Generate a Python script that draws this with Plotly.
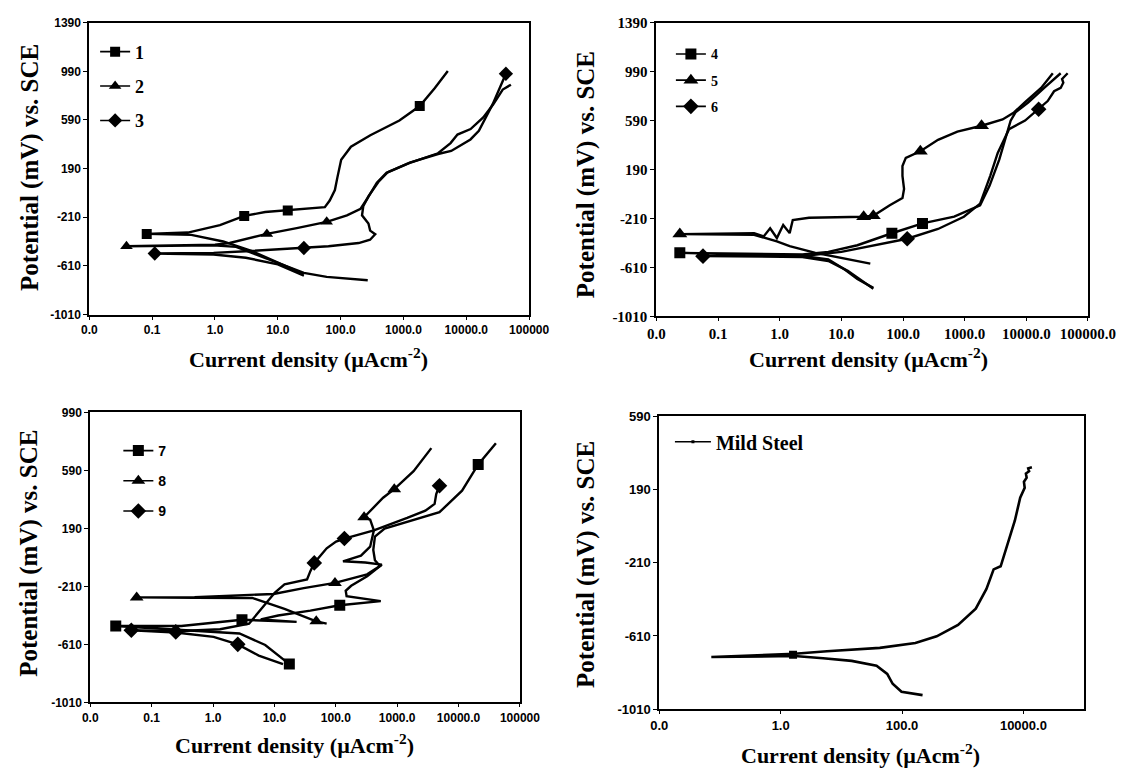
import plotly.graph_objects as go

W, H = 1145, 774

# ---------------- tick values / labels ----------------
x_tickvals = [0.01, 0.1, 1, 10, 100, 1000, 10000, 100000]
x_ticktext_a = ["0.0", "0.1", "1.0", "10.0", "100.0", "1000.0", "10000.0", "100000"]
x_ticktext_b = ["0.0", "0.1", "1.0", "10.0", "100.0", "1000.0", "10000.0", "100000.0"]
x_tickvals_ms = [0.01, 1, 100, 10000]
x_ticktext_ms = ["0.0", "1.0", "100.0", "10000.0"]
y_ticks_ab = [-1010, -610, -210, 190, 590, 990, 1390]
y_ticks_c = [-1010, -610, -210, 190, 590, 990]
y_ticks_d = [-1010, -610, -210, 190, 590]

# ---------------- Panel A : samples 1-3 ----------------
s1_i = [26, 10, 3.9, 1.35, 0.42, 0.082, 0.37, 1.2, 2.92, 6.3, 14.4, 56, 67, 81, 89, 95,
        102, 146, 297, 861, 1816, 3160, 5080]
s1_e = [-677, -583, -489, -409, -355, -347, -336, -275, -199, -167, -154, -127, -73, 14,
        120, 200, 262, 370, 464, 585, 705, 853, 993]
s1_mi = [0.082, 2.92, 14.4, 1816]
s1_me = [-347, -199, -154, 705]

s2_i = [270, 60, 26, 6.3, 2.17, 0.95, 0.039, 0.5, 1.0, 1.71, 3.5, 6.7, 20, 60, 126, 208,
        263, 377, 537, 1230, 3550, 5620, 7240, 11700, 18600, 26900, 38000, 51300]
s2_e = [-728, -700, -668, -543, -454, -440, -449, -440, -436, -422, -380, -347, -300, -248,
        -195, -140, -60, 74, 155, 235, 316, 400, 470, 515, 611, 719, 840, 880]
s2_mi = [0.039, 6.7, 60]
s2_me = [-449, -347, -248]

s3_i = [26, 10, 3.1, 0.95, 0.11, 0.95, 3.1, 26, 64, 194, 294, 355, 295, 277, 219, 229, 275,
        398, 562, 1260, 3550, 5750, 8900, 11650, 15850, 19950, 26300, 33900, 42700]
s3_e = [-691, -597, -543, -516, -508, -503, -489, -463, -449, -422, -395, -350, -320, -261,
        -194, -120, -40, 80, 160, 240, 310, 335, 390, 430, 500, 600, 720, 850, 970]
s3_mi = [0.11, 26, 42700]
s3_me = [-508, -463, 970]

# ---------------- Panel B : samples 4-6 ----------------
s4_i = [33, 18.2, 11.2, 6.15, 2.34, 0.024, 0.27, 2.34, 6.15, 18.2, 66, 207, 676, 1780, 2540,
        3650, 4650, 5570, 6680, 10700, 19500, 36100]
s4_e = [-776, -704, -624, -543, -516, -490, -498, -503, -482, -428, -330, -250, -195, -102,
        59, 273, 457, 590, 657, 737, 857, 977]
s4_mi = [0.024, 66, 207]
s4_me = [-490, -330, -250]

s5_i = [29.5, 10, 3.8, 1.45, 0.9, 0.385, 0.024, 0.385, 0.55, 0.70, 0.9, 1.14, 1.45, 1.63,
        2.99, 23, 33, 61, 98, 104, 98, 98, 111, 191, 370, 762, 1880, 4120, 6310, 9550,
        17400, 26900]
s5_e = [-578, -530, -490, -436, -396, -343, -337, -329, -356, -289, -369, -262, -329, -222,
        -204, -195, -187, -102, -43, 32, 139, 219, 286, 340, 433, 500, 548, 600, 657, 740,
        857, 977]
s5_mi = [0.024, 23, 33, 191, 1880]
s5_me = [-337, -195, -187, 340, 548]

s6_i = [33, 20.4, 12.7, 6.15, 2.34, 0.057, 0.27, 2.34, 10, 33, 117, 370, 970, 1780, 2600,
        3440, 4640, 5250, 9550, 15850, 22200, 28200, 36100, 39800, 38000, 46800]
s6_e = [-784, -712, -637, -557, -524, -517, -517, -517, -482, -428, -375, -295, -195, -88,
        139, 326, 470, 520, 590, 683, 750, 830, 857, 900, 930, 977]
s6_mi = [0.057, 117, 15850]
s6_me = [-517, -375, 683]

# ---------------- Panel C : samples 7-9 ----------------
s7_i = [17.5, 11.5, 7.08, 2.69, 0.557, 0.026, 0.304, 2.96, 23, 6, 11.5, 38.5, 116, 340, 540,
        150, 145, 178, 324, 525, 434, 408, 434, 624, 1455, 4890, 11400, 20900, 40600]
s7_e = [-746, -682, -614, -535, -519, -483, -483, -440, -455, -438, -411, -377, -340, -320,
        -312, -278, -240, -206, -140, -70, -30, 42, 133, 189, 235, 302, 450, 631, 778]
s7_mi = [0.026, 2.96, 116, 20900, 17.5]
s7_me = [-483, -440, -340, 631, -746]

s8_i = [71, 48, 14.6, 4.35, 0.5, 0.057, 0.5, 9.7, 30, 97, 324, 563, 302, 131, 257, 363, 417,
        363, 289, 590, 897, 1850, 3600]
s8_e = [-467, -451, -365, -290, -288, -286, -284, -262, -222, -186, -127, -60, -45, -37, 2,
        64, 177, 250, 267, 402, 461, 585, 744]
s8_mi = [0.057, 48, 97, 289, 897]
s8_me = [-286, -451, -186, 267, 461]

s9_i = [13.8, 5.56, 2.53, 1.02, 0.247, 0.0466, 0.247, 1.3, 3.86, 5.56, 10.2, 14.6, 34, 38.5,
        44.6, 71, 101, 138, 417, 1455, 2880, 4070, 4330, 4890]
s9_e = [-746, -687, -610, -558, -528, -513, -520, -506, -467, -388, -252, -196, -162, -105,
        -48, 53, 99, 120, 177, 262, 312, 359, 427, 484]
s9_mi = [0.0466, 0.247, 2.53, 44.6, 138, 4890]
s9_me = [-513, -524, -610, -48, 120, 484]

# ---------------- Panel D : mild steel ----------------
ms_i = [218, 98, 70, 57, 38, 14.8, 5.0, 1.7, 0.072, 1.7, 5.8, 43, 166, 372, 837, 1640, 2460,
        3230, 4220, 5520, 7240, 8850, 9800, 10500, 10200, 11300, 11000, 12400, 12000, 13800]
ms_e = [-933, -915, -871, -817, -773, -746, -732, -719, -725, -707, -693, -675, -648, -612,
        -550, -461, -353, -246, -229, -104, 21, 146, 180, 200, 232, 255, 278, 290, 306, 312]
ms_mi = [1.6]
ms_me = [-712]

BLACK = "#000000"


def px(x):
    return x / W


def py(y):
    return 1 - y / H


fig = go.Figure()


def add_series(xs, ys, mx, my, symbol, msize, name, xa, ya, leg, group, lw=2.4, legsize=None,
               leglw=None):
    fig.add_trace(go.Scatter(x=xs, y=ys, mode="lines", line=dict(color=BLACK, width=lw),
                             xaxis=xa, yaxis=ya, showlegend=False, hoverinfo="skip"))
    fig.add_trace(go.Scatter(x=mx, y=my, mode="markers",
                             marker=dict(symbol=symbol, size=msize, color=BLACK),
                             xaxis=xa, yaxis=ya, showlegend=False, hoverinfo="skip"))
    fig.add_trace(go.Scatter(x=[None], y=[None], mode="lines+markers", name=name,
                             line=dict(color=BLACK, width=leglw or 1.6),
                             marker=dict(symbol=symbol, size=legsize or msize, color=BLACK),
                             xaxis=xa, yaxis=ya, legend=leg, legendgroup=group,
                             showlegend=True))


add_series(s1_i, s1_e, s1_mi, s1_me, "square", 10, "1", "x", "y", "legend", "g1")
add_series(s2_i, s2_e, s2_mi, s2_me, "triangle-up", 11, "2", "x", "y", "legend", "g2")
add_series(s3_i, s3_e, s3_mi, s3_me, "diamond", 11, "3", "x", "y", "legend", "g3")

add_series(s4_i, s4_e, s4_mi, s4_me, "square", 11, "4", "x2", "y2", "legend2", "g4")
add_series(s5_i, s5_e, s5_mi, s5_me, "triangle-up", 13, "5", "x2", "y2", "legend2", "g5")
add_series(s6_i, s6_e, s6_mi, s6_me, "diamond", 12, "6", "x2", "y2", "legend2", "g6")

add_series(s7_i, s7_e, s7_mi, s7_me, "square", 11, "7", "x3", "y3", "legend3", "g7")
add_series(s8_i, s8_e, s8_mi, s8_me, "triangle-up", 12, "8", "x3", "y3", "legend3", "g8")
add_series(s9_i, s9_e, s9_mi, s9_me, "diamond", 12, "9", "x3", "y3", "legend3", "g9")

add_series(ms_i, ms_e, ms_mi, ms_me, "square", 8, "Mild Steel", "x4", "y4", "legend4", "g10",
           lw=2.6, legsize=3, leglw=1.4)


def xax(domain, anchor, tickvals, ticktext, font):
    return dict(domain=domain, anchor=anchor, type="log", range=[-2, 5],
                tickvals=tickvals, ticktext=ticktext, tickfont=font,
                showline=True, linecolor=BLACK, linewidth=2, mirror=True,
                ticks="outside", ticklen=3, tickcolor=BLACK, tickwidth=1,
                showgrid=False, zeroline=False)


def yax(domain, anchor, rng, tickvals, font):
    return dict(domain=domain, anchor=anchor, range=rng, tickvals=tickvals,
                ticktext=[str(v) for v in tickvals], tickfont=font,
                showline=True, linecolor=BLACK, linewidth=2, mirror=True,
                ticks="outside", ticklen=4, tickcolor=BLACK, tickwidth=1,
                showgrid=False, zeroline=False)


sans_tick = dict(family="Liberation Sans", size=12, color=BLACK, weight="bold")
serif_tick = dict(family="Liberation Serif", size=15, color=BLACK, weight="bold")
sans_tick4 = dict(family="Liberation Sans", size=13, color=BLACK, weight="bold")

fig.update_layout(
    width=W, height=H,
    margin=dict(l=0, r=0, t=0, b=0),
    paper_bgcolor="white", plot_bgcolor="white",
    xaxis=xax([px(83), px(537.5)], "y", x_tickvals, x_ticktext_a, sans_tick),
    yaxis=yax([py(313), py(15)], "x", [-1010, 1390], y_ticks_ab, sans_tick),
    xaxis2=xax([px(669), px(1115)], "y2", x_tickvals, x_ticktext_b, serif_tick),
    yaxis2=yax([py(315), py(15)], "x2", [-1010, 1390], y_ticks_ab, serif_tick),
    xaxis3=xax([px(84), px(528)], "y3", x_tickvals, x_ticktext_a, sans_tick),
    yaxis3=yax([py(709), py(413)], "x3", [-1010, 990], y_ticks_c, sans_tick),
    xaxis4=xax([px(672), px(1111)], "y4", x_tickvals_ms, x_ticktext_ms, sans_tick4),
    yaxis4=yax([py(716), py(417)], "x4", [-1010, 590], y_ticks_d, sans_tick4),
    legend=dict(x=px(89), y=py(26), xanchor="left", yanchor="top",
                bgcolor="rgba(0,0,0,0)", tracegroupgap=8, itemwidth=30,
                font=dict(family="Liberation Serif", size=18, color=BLACK, weight="bold")),
    legend2=dict(x=px(684), y=py(31), xanchor="left", yanchor="top",
                 bgcolor="rgba(0,0,0,0)", tracegroupgap=5, itemwidth=30,
                 font=dict(family="Liberation Serif", size=14, color=BLACK, weight="bold")),
    legend3=dict(x=px(113), y=py(436), xanchor="left", yanchor="top",
                 bgcolor="rgba(0,0,0,0)", tracegroupgap=9, itemwidth=30,
                 font=dict(family="Liberation Sans", size=14, color=BLACK, weight="bold")),
    legend4=dict(x=px(683), y=py(423), xanchor="left", yanchor="top",
                 bgcolor="rgba(0,0,0,0)", itemwidth=36,
                 font=dict(family="Liberation Serif", size=20, color=BLACK, weight="bold")),
)

xtitle = "Current density (µAcm<sup>-2</sup>)"
ytitle = "Potential (mV) vs. SCE"
title_font_x = dict(family="Liberation Serif", size=22, color=BLACK, weight="bold")
title_font_y = dict(family="Liberation Serif", size=25, color=BLACK, weight="bold")

for (cx, cy) in [(310, 357), (888, 357), (295, 752), (880, 762)]:
    fig.add_annotation(x=px(cx), y=py(cy), xref="paper", yref="paper", text=xtitle,
                       showarrow=False, xanchor="center", yanchor="middle", font=title_font_x)
for (cx, cy) in [(21, 163), (597, 170), (21, 557), (597, 568)]:
    fig.add_annotation(x=px(cx), y=py(cy), xref="paper", yref="paper", text=ytitle,
                       showarrow=False, xanchor="center", yanchor="middle", textangle=-90,
                       font=title_font_y)

fig.write_html("out.html")
